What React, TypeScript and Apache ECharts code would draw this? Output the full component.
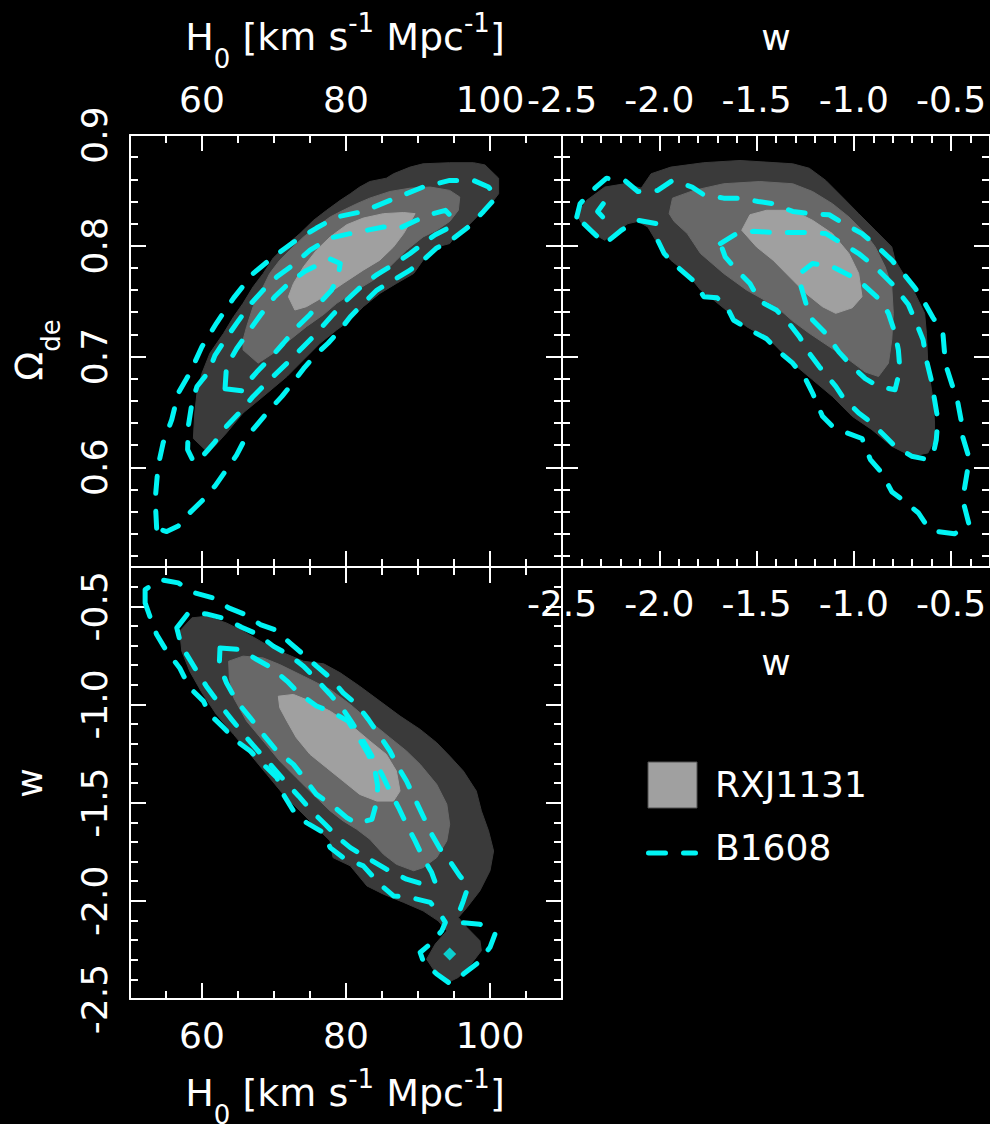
import React, { useEffect, useRef } from 'react';
import * as echarts from 'echarts';

// ---- tick values ----
const H0_MAJOR = [60, 80, 100];
const H0_MINOR = [55, 65, 70, 75, 85, 90, 95, 105];
const OMEGA_MAJOR = [0.6, 0.7, 0.8, 0.9];
const OMEGA_MINOR = [0.52, 0.54, 0.56, 0.58, 0.62, 0.64, 0.66, 0.68, 0.72, 0.74, 0.76, 0.78, 0.82, 0.84, 0.86, 0.88];
const W_MAJOR = [-2.5, -2.0, -1.5, -1.0, -0.5];
const W_MINOR = [-2.4, -2.3, -2.2, -2.1, -1.9, -1.8, -1.7, -1.6, -1.4, -1.3, -1.2, -1.1, -0.9, -0.8, -0.7, -0.6, -0.4];

// ---- H0 vs Omega_de ----
const RXJ_HO_1 = [[58.8,0.626],[60.9,0.613],[63.4,0.631],[65.7,0.649],[68.5,0.664],[71.8,0.682],[74.1,0.697],[76.4,0.712],[78.7,0.724],[80.6,0.733],[82.4,0.745],[84.7,0.757],[87.0,0.766],[89.4,0.775],[90.7,0.787],[92.1,0.798],[94.4,0.802],[95.1,0.808],[96.8,0.817],[98.6,0.829],[100.5,0.841],[101.2,0.847],[101.2,0.861],[99.3,0.873],[97.7,0.875],[94.4,0.875],[90.7,0.874],[88.9,0.871],[86.6,0.865],[85.6,0.861],[83.3,0.858],[81.9,0.853],[80.6,0.847],[79.2,0.841],[77.3,0.832],[75.5,0.823],[73.6,0.811],[71.8,0.801],[69.9,0.789],[68.5,0.775],[67.1,0.763],[65.7,0.748],[64.4,0.736],[63.0,0.721],[61.1,0.703],[60.0,0.685],[59.3,0.667],[59.0,0.649]];
const RXJ_HO_2 = [[65.7,0.706],[67.8,0.694],[69.9,0.703],[72.2,0.715],[74.5,0.727],[76.9,0.738],[78.7,0.748],[81.5,0.760],[83.8,0.769],[85.6,0.778],[87.0,0.787],[88.4,0.796],[90.7,0.808],[92.6,0.814],[94.4,0.822],[95.6,0.832],[95.8,0.844],[94.4,0.850],[91.7,0.853],[88.9,0.852],[86.1,0.849],[83.3,0.843],[81.5,0.838],[79.6,0.832],[77.8,0.826],[75.9,0.817],[74.1,0.808],[72.2,0.796],[70.8,0.787],[69.4,0.775],[68.5,0.763],[67.1,0.745],[66.2,0.727],[65.7,0.715]];
const RXJ_HO_3 = [[72.0,0.754],[72.9,0.742],[74.5,0.745],[76.9,0.754],[79.6,0.766],[82.4,0.778],[84.7,0.787],[86.6,0.799],[88.0,0.811],[89.6,0.829],[88.0,0.830],[85.2,0.829],[82.4,0.825],[80.1,0.819],[77.8,0.808],[75.9,0.796],[74.1,0.781],[72.7,0.766]];
const B1608_HO_1 = [[53.7,0.545],[53.5,0.571],[53.9,0.601],[54.6,0.622],[55.8,0.643],[56.7,0.667],[58.3,0.685],[60.0,0.709],[62.0,0.730],[64.4,0.753],[67.1,0.775],[69.9,0.790],[73.1,0.805],[75.9,0.816],[78.7,0.826],[82.4,0.831],[86.1,0.841],[90.7,0.853],[94.4,0.859],[97.7,0.859],[99.8,0.853],[100.9,0.844],[99.1,0.831],[96.8,0.816],[94.4,0.804],[92.6,0.798],[90.7,0.787],[88.9,0.778],[86.6,0.769],[84.3,0.760],[82.4,0.748],[80.6,0.736],[79.2,0.724],[77.5,0.712],[75.7,0.701],[74.1,0.689],[72.7,0.677],[71.1,0.664],[69.4,0.652],[67.6,0.638],[66.0,0.626],[64.8,0.611],[63.4,0.598],[61.8,0.583],[60.2,0.571],[58.3,0.559],[56.7,0.547],[55.1,0.542]];
const B1608_HO_2 = [[58.6,0.608],[58.0,0.616],[58.1,0.637],[58.6,0.658],[59.3,0.673],[60.9,0.686],[61.8,0.701],[63.2,0.715],[64.8,0.730],[66.7,0.747],[68.5,0.760],[70.4,0.772],[72.7,0.783],[75.0,0.796],[77.8,0.807],[80.6,0.811],[82.9,0.814],[85.2,0.817],[87.5,0.816],[89.8,0.823],[92.1,0.829],[93.8,0.832],[94.7,0.826],[94.2,0.816],[92.4,0.810],[90.7,0.802],[88.9,0.793],[86.6,0.783],[84.3,0.774],[82.4,0.765],[80.1,0.751],[78.2,0.738],[75.9,0.721],[74.1,0.709],[71.8,0.694],[69.4,0.679],[67.1,0.664],[65.3,0.650],[63.4,0.637],[61.8,0.623],[60.2,0.611]];
const B1608_HO_3 = [[63.2,0.671],[63.4,0.691],[64.8,0.707],[66.4,0.722],[68.3,0.739],[70.1,0.754],[72.2,0.767],[74.3,0.777],[76.2,0.783],[77.8,0.788],[79.2,0.784],[78.9,0.772],[78.0,0.760],[76.6,0.750],[75.0,0.738],[73.1,0.726],[71.3,0.712],[69.4,0.698],[67.6,0.686],[66.4,0.677],[65.7,0.669]];

// ---- w vs Omega_de ----
const RXJ_WO_1 = [[-2.424,0.828],[-2.373,0.841],[-2.280,0.853],[-2.178,0.856],[-2.093,0.852],[-2.042,0.865],[-1.941,0.871],[-1.771,0.875],[-1.585,0.877],[-1.314,0.874],[-1.229,0.870],[-1.144,0.859],[-1.059,0.844],[-0.975,0.829],[-0.890,0.814],[-0.805,0.799],[-0.788,0.787],[-0.737,0.772],[-0.686,0.757],[-0.636,0.739],[-0.627,0.721],[-0.619,0.691],[-0.593,0.661],[-0.585,0.640],[-0.585,0.625],[-0.619,0.613],[-0.703,0.610],[-0.805,0.619],[-0.907,0.634],[-1.008,0.646],[-1.110,0.664],[-1.212,0.679],[-1.314,0.694],[-1.432,0.715],[-1.551,0.727],[-1.636,0.739],[-1.720,0.751],[-1.788,0.760],[-1.856,0.775],[-1.941,0.787],[-2.008,0.802],[-2.059,0.817],[-2.110,0.822],[-2.161,0.820],[-2.212,0.814],[-2.280,0.805],[-2.339,0.811],[-2.398,0.820]];
const RXJ_WO_2 = [[-1.949,0.829],[-1.932,0.843],[-1.822,0.850],[-1.669,0.856],[-1.483,0.858],[-1.314,0.856],[-1.212,0.849],[-1.110,0.838],[-1.025,0.826],[-0.941,0.811],[-0.890,0.799],[-0.839,0.781],[-0.805,0.763],[-0.797,0.739],[-0.805,0.715],[-0.822,0.694],[-0.873,0.682],[-0.941,0.686],[-1.025,0.697],[-1.127,0.709],[-1.229,0.721],[-1.314,0.732],[-1.398,0.745],[-1.551,0.760],[-1.669,0.775],[-1.788,0.793],[-1.856,0.811],[-1.924,0.822]];
const RXJ_WO_3 = [[-1.576,0.814],[-1.534,0.828],[-1.449,0.832],[-1.314,0.832],[-1.212,0.823],[-1.110,0.811],[-1.025,0.793],[-0.975,0.775],[-0.958,0.754],[-1.008,0.744],[-1.093,0.739],[-1.161,0.745],[-1.246,0.757],[-1.314,0.769],[-1.415,0.787],[-1.500,0.799]];
const B1608_WO_1 = [[-2.424,0.826],[-2.407,0.838],[-2.331,0.852],[-2.271,0.861],[-2.178,0.859],[-2.110,0.849],[-2.008,0.850],[-1.932,0.859],[-1.831,0.853],[-1.771,0.846],[-1.669,0.843],[-1.585,0.843],[-1.492,0.840],[-1.415,0.838],[-1.314,0.831],[-1.229,0.829],[-1.127,0.828],[-1.051,0.820],[-0.958,0.811],[-0.890,0.801],[-0.805,0.787],[-0.746,0.775],[-0.686,0.762],[-0.644,0.751],[-0.593,0.735],[-0.542,0.721],[-0.534,0.704],[-0.525,0.691],[-0.492,0.673],[-0.466,0.659],[-0.449,0.643],[-0.441,0.628],[-0.412,0.611],[-0.415,0.598],[-0.432,0.580],[-0.432,0.565],[-0.407,0.548],[-0.483,0.540],[-0.568,0.542],[-0.619,0.546],[-0.669,0.559],[-0.737,0.569],[-0.805,0.578],[-0.856,0.595],[-0.915,0.607],[-0.958,0.626],[-1.034,0.631],[-1.110,0.637],[-1.161,0.646],[-1.212,0.667],[-1.246,0.679],[-1.314,0.694],[-1.381,0.704],[-1.449,0.716],[-1.534,0.724],[-1.619,0.733],[-1.653,0.745],[-1.703,0.753],[-1.771,0.754],[-1.822,0.768],[-1.907,0.781],[-1.975,0.793],[-2.008,0.805],[-2.017,0.820],[-2.110,0.823],[-2.195,0.814],[-2.280,0.802],[-2.347,0.813]];
const B1608_WO_2 = [[-1.686,0.802],[-1.602,0.811],[-1.517,0.813],[-1.415,0.812],[-1.331,0.812],[-1.237,0.812],[-1.144,0.811],[-1.059,0.802],[-0.975,0.793],[-0.890,0.781],[-0.805,0.766],[-0.720,0.747],[-0.678,0.730],[-0.644,0.715],[-0.627,0.697],[-0.602,0.679],[-0.585,0.661],[-0.568,0.643],[-0.576,0.625],[-0.593,0.611],[-0.619,0.607],[-0.703,0.610],[-0.788,0.619],[-0.839,0.628],[-0.907,0.640],[-0.975,0.649],[-1.059,0.664],[-1.093,0.673],[-1.178,0.691],[-1.229,0.703],[-1.280,0.718],[-1.347,0.733],[-1.398,0.742],[-1.483,0.750],[-1.534,0.766],[-1.602,0.778],[-1.661,0.790]];
const B1608_WO_3 = [[-1.263,0.777],[-1.212,0.784],[-1.110,0.781],[-1.008,0.772],[-0.958,0.766],[-0.864,0.751],[-0.822,0.739],[-0.788,0.721],[-0.771,0.706],[-0.763,0.688],[-0.788,0.670],[-0.873,0.673],[-0.941,0.680],[-1.008,0.691],[-1.076,0.704],[-1.144,0.721],[-1.212,0.733],[-1.246,0.748],[-1.271,0.763]];
const B1608_WO_HOOK = [[-2.288,0.838],[-2.317,0.831],[-2.280,0.824]];

// ---- H0 vs w ----
const RXJ_HW_1 = [[56.9,-0.627],[58.6,-0.559],[60.6,-0.551],[63.4,-0.585],[65.7,-0.627],[68.5,-0.686],[71.3,-0.737],[74.1,-0.780],[76.9,-0.793],[79.2,-0.839],[81.9,-0.907],[84.7,-0.983],[87.5,-1.059],[90.3,-1.127],[92.6,-1.195],[94.4,-1.263],[96.3,-1.339],[98.1,-1.441],[98.8,-1.542],[99.8,-1.644],[100.5,-1.746],[100.0,-1.847],[98.6,-1.949],[96.8,-2.034],[95.6,-2.085],[96.8,-2.136],[98.6,-2.203],[98.8,-2.254],[97.2,-2.331],[95.6,-2.390],[94.2,-2.415],[92.4,-2.364],[91.2,-2.297],[92.4,-2.220],[94.0,-2.153],[92.8,-2.102],[90.7,-2.051],[88.0,-2.008],[85.2,-1.966],[82.9,-1.924],[80.6,-1.822],[78.2,-1.780],[77.8,-1.695],[75.9,-1.627],[73.6,-1.542],[71.3,-1.458],[69.0,-1.356],[66.7,-1.254],[64.4,-1.153],[62.0,-1.051],[60.0,-0.941],[58.3,-0.831],[57.2,-0.729]];
const RXJ_HW_2 = [[63.7,-0.780],[65.7,-0.754],[68.5,-0.763],[70.8,-0.797],[74.1,-0.856],[77.8,-0.924],[80.6,-1.000],[83.3,-1.085],[86.1,-1.169],[88.4,-1.237],[90.3,-1.305],[92.6,-1.407],[94.0,-1.508],[94.4,-1.610],[94.0,-1.695],[92.6,-1.780],[90.7,-1.831],[89.4,-1.847],[87.0,-1.814],[85.2,-1.763],[83.3,-1.686],[81.5,-1.636],[79.6,-1.593],[77.8,-1.542],[75.9,-1.475],[73.1,-1.373],[70.8,-1.288],[68.5,-1.186],[66.2,-1.085],[64.4,-0.966],[63.8,-0.864]];
const RXJ_HW_3 = [[70.6,-0.958],[72.7,-0.949],[75.0,-0.983],[77.8,-1.034],[80.6,-1.102],[83.3,-1.186],[85.6,-1.254],[87.0,-1.339],[87.5,-1.441],[86.6,-1.492],[84.3,-1.492],[81.9,-1.458],[79.6,-1.390],[77.3,-1.322],[75.0,-1.254],[73.1,-1.169],[71.8,-1.085],[70.8,-1.017]];
const B1608_HW_1 = [[52.1,-0.483],[52.1,-0.415],[54.2,-0.364],[56.7,-0.381],[59.0,-0.432],[61.6,-0.458],[63.7,-0.508],[66.0,-0.542],[68.1,-0.593],[70.1,-0.619],[72.2,-0.686],[74.1,-0.746],[75.9,-0.805],[77.8,-0.864],[79.6,-0.941],[81.5,-1.000],[83.1,-1.076],[84.7,-1.161],[86.1,-1.237],[87.3,-1.322],[88.4,-1.390],[89.6,-1.483],[90.7,-1.568],[91.9,-1.661],[93.1,-1.737],[94.4,-1.797],[95.8,-1.873],[97.0,-1.924],[96.3,-2.000],[95.6,-2.068],[95.8,-2.110],[98.6,-2.119],[100.7,-2.169],[100.0,-2.237],[98.4,-2.314],[96.3,-2.373],[94.4,-2.420],[92.6,-2.373],[90.7,-2.305],[90.3,-2.263],[91.7,-2.220],[93.3,-2.153],[93.8,-2.110],[93.1,-2.068],[91.7,-2.008],[88.9,-1.983],[86.6,-1.975],[84.7,-1.915],[82.4,-1.822],[79.6,-1.780],[77.8,-1.729],[76.9,-1.653],[74.5,-1.602],[72.7,-1.542],[71.3,-1.458],[70.4,-1.373],[68.5,-1.305],[66.7,-1.237],[64.8,-1.186],[63.0,-1.119],[61.1,-1.051],[60.2,-0.983],[58.3,-0.915],[56.9,-0.814],[55.1,-0.729],[53.7,-0.644],[53.0,-0.576]];
const B1608_HW_2 = [[56.5,-0.610],[58.1,-0.534],[60.6,-0.539],[63.2,-0.563],[65.5,-0.607],[67.8,-0.644],[69.9,-0.703],[72.0,-0.746],[74.1,-0.805],[75.9,-0.873],[77.8,-0.949],[79.6,-1.025],[81.0,-1.102],[82.4,-1.186],[83.6,-1.263],[85.0,-1.356],[86.1,-1.441],[87.3,-1.525],[88.4,-1.610],[89.6,-1.695],[90.7,-1.780],[91.9,-1.856],[92.4,-1.907],[90.7,-1.915],[88.4,-1.890],[85.6,-1.839],[82.9,-1.780],[80.6,-1.729],[78.9,-1.678],[77.1,-1.610],[75.2,-1.542],[73.4,-1.466],[71.5,-1.390],[69.7,-1.314],[67.8,-1.237],[66.0,-1.161],[64.1,-1.076],[62.3,-0.992],[60.6,-0.907],[59.0,-0.814],[57.6,-0.729],[56.9,-0.669]];
const B1608_HW_3 = [[62.5,-0.712],[65.3,-0.720],[67.6,-0.771],[69.7,-0.814],[71.8,-0.881],[73.4,-0.941],[75.9,-1.008],[78.2,-1.042],[80.3,-1.085],[81.9,-1.178],[83.1,-1.254],[84.0,-1.331],[84.4,-1.415],[84.3,-1.492],[83.6,-1.585],[81.5,-1.607],[80.1,-1.576],[78.2,-1.517],[75.9,-1.458],[74.5,-1.390],[72.7,-1.305],[70.4,-1.237],[68.5,-1.153],[66.7,-1.068],[64.8,-0.983],[63.4,-0.890],[62.4,-0.797]];
const B1608_HW_DOT = [[94.4, -2.271]];

// ---- titles (text pieces: main / subscript / superscript / gap) ----
const H0_TITLE: [string, string][] = [['H', 'm'], ['0', 'sub'], [' ', 'gap'], ['[km s', 'm'], ['-1', 'sup'], [' ', 'gap'], ['Mpc', 'm'], ['-1', 'sup'], [']', 'm']];
const OMEGA_TITLE: [string, string][] = [['Ω', 'm'], ['de', 'sub']];

const FONT = 'DejaVu Sans';
const WHITE = '#ffffff';
const CYAN = '#00f4f4';
const GRAY = ['#3a3a3a', '#686868', '#a0a0a0'];

const fmtInt = (v: number) => String(Math.round(v));
const fmt1 = (v: number) => v.toFixed(1);

let measureCtx: CanvasRenderingContext2D | null = null;
function measure(text: string, size: number) {
  if (!measureCtx) measureCtx = document.createElement('canvas').getContext('2d');
  if (!measureCtx) return text.length * size * 0.6;
  measureCtx.font = `${size}px "${FONT}"`;
  return measureCtx.measureText(text).width;
}

function titleGroup(pieces: [string, string][], x: number, y: number, rotation = 0) {
  const size: Record<string, number> = { m: 38, gap: 38, sub: 26, sup: 26 };
  // vertical centres relative to the main baseline
  const dy: Record<string, number> = { m: -13.1, gap: 0, sub: 9, sup: -27 };
  const widths = pieces.map(([t, k]) => measure(t, size[k]));
  const total = widths.reduce((a, b) => a + b, 0);
  let cx = -total / 2;
  const children: any[] = [];
  pieces.forEach(([t, k], i) => {
    if (k !== 'gap') {
      children.push({
        type: 'text', x: cx, y: dy[k],
        style: { text: t, fontSize: size[k], fontFamily: FONT, fill: WHITE, align: 'left', verticalAlign: 'middle' },
      });
    }
    cx += widths[i];
  });
  return { type: 'group', x, y, rotation, children };
}

function axisSet(kind: 'x' | 'y', g: number, min: number, max: number, major: number[], minor: number[], labelA: boolean, labelB: boolean, fmt: (v: number) => string) {
  const posA = kind === 'x' ? 'bottom' : 'left';
  const posB = kind === 'x' ? 'top' : 'right';
  const mk = (pos: string, ticks: number[], len: number, showLine: boolean, showLabel: boolean) => ({
    type: 'value',
    gridIndex: g,
    position: pos,
    min,
    max,
    axisLine: { show: showLine, onZero: false, lineStyle: { color: WHITE, width: 2 } },
    axisTick: { show: true, inside: true, length: len, customValues: ticks, lineStyle: { color: WHITE, width: 2 } },
    axisLabel: {
      show: showLabel,
      customValues: major,
      formatter: fmt,
      margin: 18,
      color: WHITE,
      fontSize: 36,
      fontFamily: FONT,
      rotate: kind === 'y' ? 90 : 0,
      showMinLabel: true,
      showMaxLabel: true,
    },
    splitLine: { show: false },
    minorTick: { show: false },
  });
  return [
    mk(posA, major, 16, true, labelA),
    mk(posA, minor, 8, false, false),
    mk(posB, major, 16, true, labelB),
    mk(posB, minor, 8, false, false),
  ];
}

function poly(g: number, pts: number[][], style: any, closed = true) {
  return {
    type: 'custom',
    coordinateSystem: 'cartesian2d',
    xAxisIndex: g * 4,
    yAxisIndex: g * 4,
    silent: true,
    data: [pts[0]],
    renderItem: (_params: any, api: any) => ({
      type: closed ? 'polygon' : 'polyline',
      shape: { points: pts.map((p) => api.coord(p)) },
      style,
    }),
  };
}

const fillStyle = (i: number) => ({ fill: GRAY[i], stroke: GRAY[i], lineWidth: 1 });
const dashStyle = { fill: 'none', stroke: CYAN, lineWidth: 5, lineDash: [17, 18], lineCap: 'round', lineJoin: 'round' };

export default function App() {
  const ref = useRef<HTMLDivElement>(null);
  useEffect(() => {
    if (!ref.current) return;
    const chart = echarts.init(ref.current, null, { renderer: 'svg' });
    const xAxis = [
      ...axisSet('x', 0, 50, 110, H0_MAJOR, H0_MINOR, false, true, fmtInt),
      ...axisSet('x', 1, -2.5, -0.3, W_MAJOR, W_MINOR, true, true, fmt1),
      ...axisSet('x', 2, 50, 110, H0_MAJOR, H0_MINOR, true, false, fmtInt),
    ];
    const yAxis = [
      ...axisSet('y', 0, 0.51, 0.9, OMEGA_MAJOR, OMEGA_MINOR, true, false, fmt1),
      ...axisSet('y', 1, 0.51, 0.9, OMEGA_MAJOR, OMEGA_MINOR, false, false, fmt1),
      ...axisSet('y', 2, -2.5, -0.3, W_MAJOR, W_MINOR, true, false, fmt1),
    ];
    const series: any[] = [
      poly(0, RXJ_HO_1, fillStyle(0)), poly(0, RXJ_HO_2, fillStyle(1)), poly(0, RXJ_HO_3, fillStyle(2)),
      poly(0, B1608_HO_1, dashStyle), poly(0, B1608_HO_2, dashStyle), poly(0, B1608_HO_3, dashStyle),
      poly(1, RXJ_WO_1, fillStyle(0)), poly(1, RXJ_WO_2, fillStyle(1)), poly(1, RXJ_WO_3, fillStyle(2)),
      poly(1, B1608_WO_1, dashStyle), poly(1, B1608_WO_2, dashStyle), poly(1, B1608_WO_3, dashStyle),
      poly(1, B1608_WO_HOOK, dashStyle, false),
      poly(2, RXJ_HW_1, fillStyle(0)), poly(2, RXJ_HW_2, fillStyle(1)), poly(2, RXJ_HW_3, fillStyle(2)),
      poly(2, B1608_HW_1, dashStyle), poly(2, B1608_HW_2, dashStyle), poly(2, B1608_HW_3, dashStyle),
      {
        type: 'scatter', xAxisIndex: 8, yAxisIndex: 8, data: B1608_HW_DOT,
        symbol: 'diamond', symbolSize: 13, itemStyle: { color: CYAN }, silent: true,
      },
    ];
    const plain = { fontSize: 36, fontFamily: FONT, fill: WHITE, align: 'center', verticalAlign: 'middle' };
    const graphic = [
      titleGroup(H0_TITLE, 345, 50),
      titleGroup(H0_TITLE, 345, 1106),
      { type: 'text', x: 776, y: 37.5, style: { ...plain, text: 'w' } },
      { type: 'text', x: 776, y: 662.5, style: { ...plain, text: 'w' } },
      { type: 'text', x: 29.5, y: 783, rotation: Math.PI / 2, style: { ...plain, text: 'w' } },
      titleGroup(OMEGA_TITLE, 42, 350, Math.PI / 2),
      { type: 'rect', shape: { x: 648, y: 762, width: 49, height: 46 }, style: { fill: '#a0a0a0', stroke: '#505050', lineWidth: 1 } },
      { type: 'text', x: 715, y: 784.5, style: { fontSize: 36, fontFamily: FONT, fill: WHITE, align: 'left', verticalAlign: 'middle', text: 'RXJ1131' } },
      { type: 'line', shape: { x1: 648.5, y1: 853, x2: 695.5, y2: 853 }, style: { stroke: CYAN, lineWidth: 5, lineDash: [17, 18], lineCap: 'round' } },
      { type: 'text', x: 715, y: 847.5, style: { fontSize: 36, fontFamily: FONT, fill: WHITE, align: 'left', verticalAlign: 'middle', text: 'B1608' } },
    ];
    chart.setOption({
      animation: false,
      backgroundColor: '#000000',
      grid: [
        { left: 130, top: 135, width: 432, height: 432 },
        { left: 562, top: 135, width: 432, height: 432 },
        { left: 130, top: 567, width: 432, height: 432 },
      ],
      xAxis,
      yAxis,
      series,
      graphic,
    });
    return () => chart.dispose();
  }, []);
  return (
    <div
      ref={ref}
      style={{ position: 'absolute', left: 0, top: 0, width: 990, height: 1124, background: '#000' }}
    />
  );
}
